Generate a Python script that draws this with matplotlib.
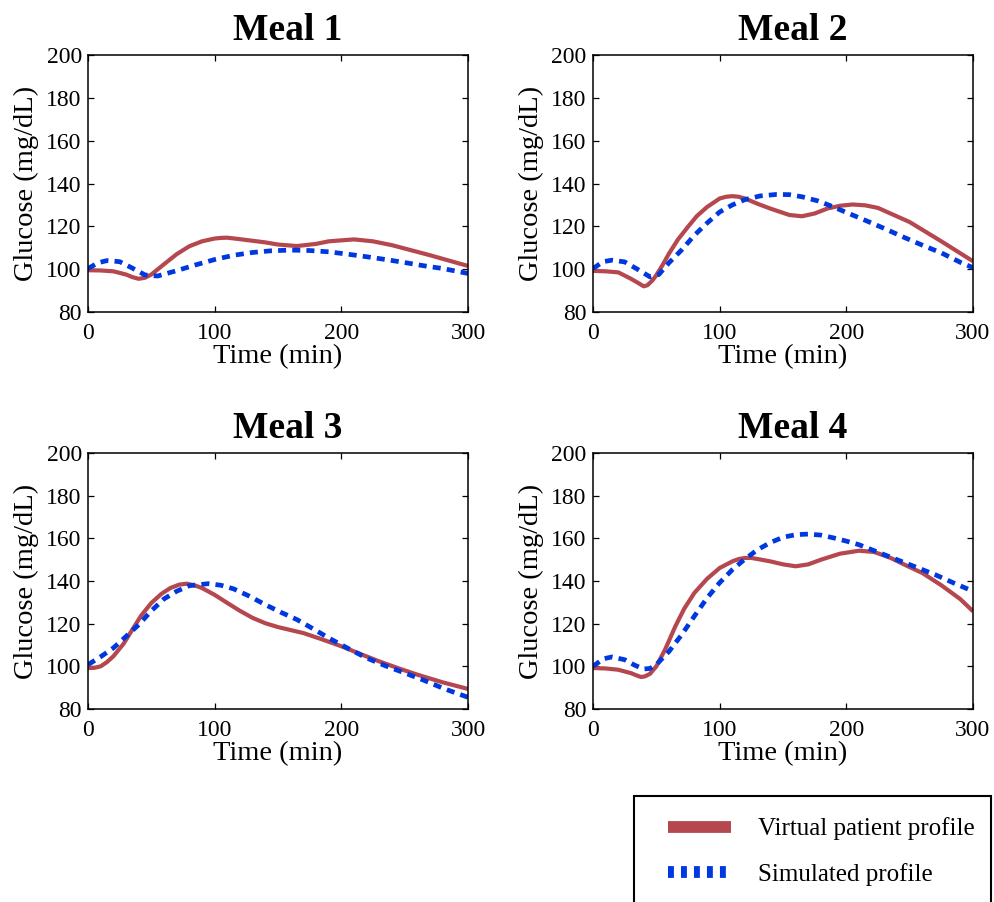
"""Glucose response to four meals: virtual patient profile vs. simulated profile.

Four panels (one per meal) over a 300-minute window, with a shared legend
box in the lower right corner. Writes out.png.
"""

import matplotlib

matplotlib.use("Agg")
import matplotlib.pyplot as plt
from matplotlib.lines import Line2D
from matplotlib.patches import Rectangle

plt.rcParams["font.family"] = ["Liberation Serif", "DejaVu Serif"]

MEAL_TITLES = ["Meal 1", "Meal 2", "Meal 3", "Meal 4"]
X_TICKS = [0, 100, 200, 300]
Y_TICKS = [80, 100, 120, 140, 160, 180, 200]
LEGEND_LABELS = ["Virtual patient profile", "Simulated profile"]

# Meal 1
meal1_patient_time = [0, 10, 20, 30, 35, 40, 45, 50, 60, 70, 80, 90, 100, 105, 110,
                      120, 140, 150, 165, 180, 190, 210, 225, 240, 270, 300]
meal1_patient_glucose = [99.5, 99.4, 99.0, 97.5, 96.3, 95.5, 96.0, 97.5, 102.3, 107.0,
                         110.7, 113.0, 114.3, 114.6, 114.7, 114.0, 112.5, 111.5, 110.8,
                         111.8, 113.0, 113.9, 113.0, 111.2, 106.5, 101.5]
meal1_sim_time = [0, 8, 15, 25, 35, 45, 55, 70, 85, 100, 115, 130, 145, 160, 175,
                  190, 205, 220, 235, 250, 265, 280, 300]
meal1_sim_glucose = [100.3, 103.0, 104.0, 103.5, 100.5, 97.3, 96.8, 99.3, 102.0, 104.5,
                     106.5, 107.8, 108.6, 108.9, 108.7, 108.1, 107.0, 105.8, 104.5,
                     103.1, 101.6, 100.3, 98.0]

# Meal 2
meal2_patient_time = [0, 10, 20, 30, 35, 40, 43, 47, 50, 55, 60, 67, 75, 82, 90, 95,
                      100, 105, 110, 115, 120, 130, 140, 155, 165, 175, 185, 195, 205,
                      215, 225, 250, 275, 300]
meal2_patient_glucose = [99.2, 99.0, 98.5, 95.5, 93.8, 92.0, 92.5, 94.8, 97.2, 102.0,
                         107.3, 113.8, 119.8, 124.8, 129.0, 131.0, 133.0, 133.8, 134.1,
                         133.8, 133.0, 130.5, 128.3, 125.3, 124.7, 126.0, 128.3, 129.6,
                         130.2, 129.8, 128.6, 122.0, 113.0, 103.7]
meal2_sim_time = [0, 8, 15, 25, 35, 45, 52, 60, 70, 80, 90, 100, 110, 120, 132, 145,
                  155, 165, 178, 190, 202, 215, 230, 245, 260, 275, 290, 300]
meal2_sim_glucose = [100.3, 103.5, 104.2, 103.4, 100.0, 96.4, 97.5, 103.0, 109.0, 115.8,
                     121.5, 126.7, 130.0, 132.5, 134.2, 134.9, 134.8, 133.8, 131.8,
                     129.0, 126.0, 122.8, 119.0, 115.0, 111.2, 107.6, 103.2, 100.7]

# Meal 3
meal3_patient_time = [0, 5, 10, 15, 20, 28, 35, 42, 50, 58, 65, 72, 78, 85, 90, 100,
                      110, 120, 130, 140, 150, 160, 170, 185, 200, 215, 230, 245, 260,
                      280, 300]
meal3_patient_glucose = [99.2, 99.3, 100.0, 102.0, 104.7, 110.5, 117.2, 123.8, 129.7,
                         134.0, 136.7, 138.3, 138.75, 137.8, 136.7, 133.5, 129.7, 126.0,
                         122.7, 120.2, 118.4, 117.0, 115.6, 112.6, 109.4, 105.8, 102.3,
                         99.1, 96.1, 92.5, 89.4]
meal3_sim_time = [0, 10, 20, 30, 40, 50, 60, 70, 80, 95, 105, 115, 127, 140, 152,
                  165, 178, 190, 205, 220, 235, 250, 265, 280, 290, 300]
meal3_sim_glucose = [100.8, 104.5, 108.6, 114.0, 119.5, 126.0, 131.6, 135.2, 137.8,
                     138.75, 138.0, 136.3, 133.0, 128.9, 125.4, 121.9, 117.5, 113.3,
                     108.5, 103.9, 100.2, 96.9, 93.5, 89.8, 87.6, 85.5]

# Meal 4
meal4_patient_time = [0, 10, 20, 30, 35, 38, 41, 45, 50, 57, 65, 72, 80, 90, 100, 110,
                      115, 120, 125, 130, 140, 150, 160, 170, 180, 195, 210, 222, 235,
                      250, 260, 275, 290, 300]
meal4_patient_glucose = [99.2, 99.0, 98.4, 96.8, 95.6, 95.0, 95.3, 96.5, 100.0, 108.0,
                         118.75, 127.0, 134.4, 141.0, 146.1, 149.2, 150.3, 150.8, 150.8,
                         150.3, 149.2, 147.8, 146.9, 147.8, 150.0, 152.8, 154.2, 153.6,
                         150.8, 146.5, 143.75, 138.0, 131.5, 125.8]
meal4_sim_time = [0, 8, 15, 25, 33, 40, 45, 50, 60, 70, 80, 90, 100, 110, 120, 130,
                  140, 150, 160, 170, 180, 190, 200, 210, 225, 240, 255, 270, 285, 300]
meal4_sim_glucose = [100.0, 103.5, 104.4, 103.1, 100.5, 98.75, 99.0, 100.8, 107.0, 114.8,
                     123.5, 132.0, 139.2, 145.3, 150.3, 154.7, 158.0, 160.5, 161.7,
                     162.0, 161.5, 160.2, 158.7, 157.0, 153.5, 150.0, 146.5, 143.0,
                     139.0, 135.2]

MEALS = [
    (meal1_patient_time, meal1_patient_glucose, meal1_sim_time, meal1_sim_glucose),
    (meal2_patient_time, meal2_patient_glucose, meal2_sim_time, meal2_sim_glucose),
    (meal3_patient_time, meal3_patient_glucose, meal3_sim_time, meal3_sim_glucose),
    (meal4_patient_time, meal4_patient_glucose, meal4_sim_time, meal4_sim_glucose),
]

PATIENT_COLOUR = "#b5474f"
SIM_COLOUR = "#0038e0"
SIM_DASHES = (0, (1.7, 1.3))

FIG_W, FIG_H = 994, 902
# Panel rectangles in pixels: (left, top, right, bottom)
PANEL_BOXES = [(88, 55, 468, 312), (593, 55, 973, 312),
               (88, 453, 468, 709), (593, 453, 973, 709)]


def draw_panel(axes, title, patient_t, patient_g, sim_t, sim_g):
    axes.plot(patient_t, patient_g, color=PATIENT_COLOUR, lw=3.0,
              solid_capstyle="butt", solid_joinstyle="round")
    axes.plot(sim_t, sim_g, color=SIM_COLOUR, lw=3.4, linestyle=SIM_DASHES)
    axes.set_xlim(0, 300)
    axes.set_ylim(80, 200)
    axes.set_xticks(X_TICKS)
    axes.set_yticks(Y_TICKS)
    axes.tick_params(direction="in", top=True, right=True, length=4, width=0.9,
                     labelsize=17, pad=4.5)
    axes.tick_params(axis="x", pad=8)
    for spine in axes.spines.values():
        spine.set_linewidth(1.1)
    axes.set_xlabel("Time (min)", fontsize=20.5, labelpad=0)
    axes.set_ylabel("Glucose (mg/dL)", fontsize=20.5, labelpad=5)
    axes.set_title(title, fontsize=27, fontweight="bold", pad=11, x=0.526)


def main():
    figure = plt.figure(figsize=(FIG_W / 100, FIG_H / 100), dpi=100)

    for (left, top, right, bottom), title, meal in zip(PANEL_BOXES, MEAL_TITLES, MEALS):
        axes = figure.add_axes([left / FIG_W, 1 - bottom / FIG_H,
                                (right - left) / FIG_W, (bottom - top) / FIG_H])
        draw_panel(axes, title, *meal)

    # Shared legend in an open-bottomed box at the lower right
    handles = [
        Line2D([], [], color=PATIENT_COLOUR, lw=8.5, solid_capstyle="butt"),
        Line2D([], [], color=SIM_COLOUR, lw=8.5, linestyle=(0, (0.5, 0.6))),
    ]
    figure.legend(handles, LEGEND_LABELS, loc="center left",
                  bbox_to_anchor=(668 / FIG_W, 1 - 851.5 / FIG_H),
                  frameon=False, fontsize=18, borderpad=0, borderaxespad=0,
                  handlelength=2.5, handletextpad=1.1, labelspacing=0.9)
    figure.add_artist(Rectangle((634 / FIG_W, -0.05), (991 - 634) / FIG_W,
                                1 - 796 / FIG_H + 0.05, transform=figure.transFigure,
                                fill=False, lw=1.5, edgecolor="black"))

    figure.savefig("out.png", dpi=100)
    plt.close(figure)


if __name__ == "__main__":
    main()
